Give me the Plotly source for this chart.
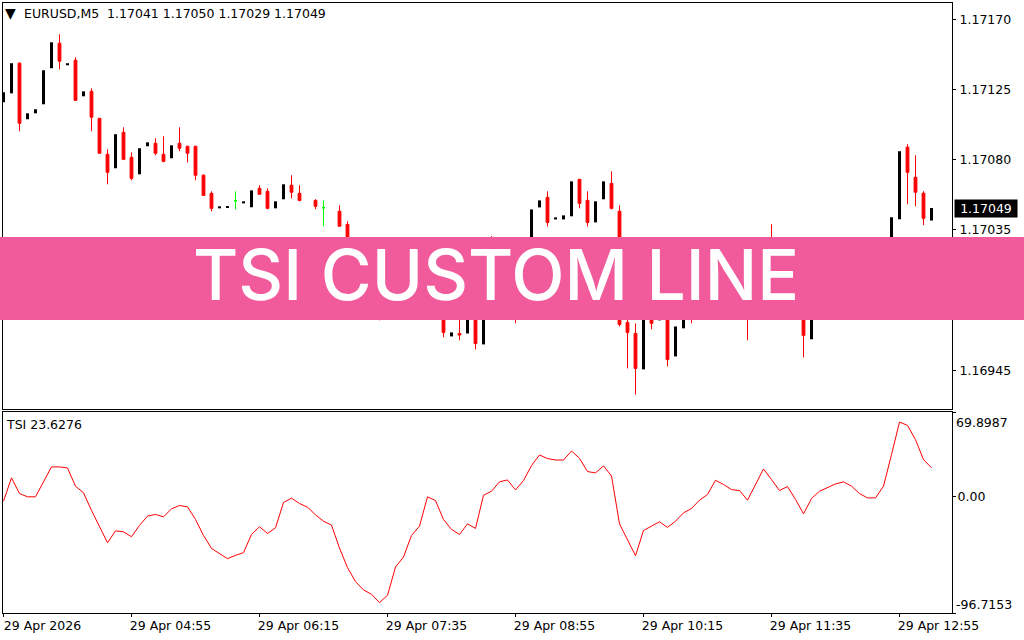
import plotly.graph_objects as go
from plotly.subplots import make_subplots

# price values in 1/100000 (bars behind the banner are rough)
bar_open = [117116.8, 117122.5, 117141.8, 117105.9, 117109.7, 117115.5, 117138.6, 117154.6, 117140.5, 117143.7,
            117120.6, 117123.8, 117106.5, 117083.4, 117074.5, 117097.5, 117081.5, 117070.6, 117088.6, 117090.5,
            117083.4, 117080.9, 117090.5, 117088.6, 117088.6, 117070.0, 117058.4, 117048.8, 117049.5, 117053.7,
            117052.0, 117049.5, 117061.6, 117059.7, 117048.8, 117054.6, 117063.6, 117058.4, None, 117053.9,
            117049.2, None, 117046.9, 117038.5, 117016, 117006, 116998, 116992, 116987, 116996,
            117004, 117008, 117016, 117014, 117020, 116990, 116966.7, 116968.6, 116968.6, 116982,
            116961.6, 117020, 117010, 117022, 117005, 116990, 117015, 117049.4, 117055.8, 117041.7,
            117041.7, 117043.7, 117067.4, 117053.9, 117039.8, 117054.6, 117064.8, 117046.9, 116975.7, 116968.6,
            116945.6, 116985, 116977.0, 116992, 116953.9, 116971.9, 116992, 116985, 116995, 116988,
            117000, 116992, 117000, 117008, 116990, 117003, 117018, 117005, 116995, 117005,
            116990, 116964.9, 116985, 116995, 117004, 116998, 117006, 117000, 116995, 116988,
            116996, 117012, 117041.8, 117088.0, 117068.7, 117058.5, 117041]
bar_close = [117123.2, 117141.8, 117103.3, 117109.7, 117112.3, 117137.3, 117155.2, 117143.1, 117141.8, 117118.0,
             117123.8, 117107.2, 117084.1, 117071.9, 117096.3, 117080.2, 117068.0, 117087.3, 117091.1, 117084.1,
             117078.9, 117089.2, 117087.3, 117084.1, 117070.0, 117057.1, 117048.8, 117050.1, 117050.1, 117053.7,
             117053.3, 117060.3, 117057.8, 117048.8, 117053.3, 117064.2, 117059.1, 117053.9, None, 117050.1,
             117049.2, None, 117037.3, 117015, 117006, 116998, 116992, 116987, 116998, 117006,
             117010, 117018, 117022, 117027, 117008, 116969.3, 116969.3, 116967.6, 116985, 116962.2,
             117005, 117010, 117022, 117008, 116990, 117012, 117048.1, 117053.9, 117039.8, 117043.0,
             117044.3, 117066.1, 117052.0, 117039.8, 117053.3, 117066.1, 117048.8, 116974.4, 116969.3, 116946.2,
             116985, 116975.1, 116982, 116952.0, 116973.1, 116990, 116985, 116995, 116988, 117000,
             116992, 117002, 117010, 116990, 117005, 117015, 117005, 116995, 117006, 116992,
             116967.4, 116985, 116995, 117004, 116998, 117006, 117000, 116995, 116988, 116996,
             117010, 117043.1, 117085.4, 117071.9, 117059.1, 117042.4, 117049]
# only the wicks that show; None means no wick on that side
bar_high = [None, None, 117142.4, None, None, None, None, 117160.4, None, 117145.6,
            None, 117125.7, None, 117086.6, None, 117100.7, 117084.7, None, None, 117093.7,
            117095.0, None, 117100.7, None, None, 117070.6, 117059.7, None, None, 117059.7,
            None, None, 117063.6, 117061.6, None, None, 117070.0, 117063.6, None, 117054.6,
            117053.9, None, 117050.7, 117040.5, 117018, 117008, 117002, 116996, None, None,
            None, None, None, None, 117024, 116992, None, 116977.6, None, 116985,
            None, 117031, None, 117026, 117012, None, None, None, 117059.7, None,
            None, None, None, 117059.7, None, None, 117072.5, 117050.7, 116980, 116975,
            None, 116988, None, 116998, None, None, 116996, None, 116998, None,
            117004, None, None, 117012, None, None, 117038.6, 117008, None, 117010,
            116992, None, None, None, 117007, None, 117010, 117003, 116998, None,
            None, None, None, 117089.9, 117082.8, 117059.8, None]
bar_low = [None, None, 117098.2, None, None, None, None, 117137.9, None, None,
           None, 117098.2, None, 117064.2, None, None, 117066.8, None, None, 117082.8,
           117078.3, None, 117085.4, 117078.3, 117066.8, None, 117046.9, None, None, 117048.2,
           None, None, None, 117048.2, None, None, 117055.2, 117053.3, None, 117048.2,
           117037.3, None, None, 117012, 117003, 116994, 116988, 116977.0, None, None,
           None, None, None, None, 117002, 116966.1, None, 116964.2, None, 116958.4,
           None, 117006, None, 117004, 116975.1, None, None, None, 117037.2, None,
           None, None, 117048.8, 117037.2, None, None, 117048.1, 116973.1, 116946.2, 116929.5,
           None, 116971.2, None, 116947.5, None, None, 116975.1, None, 116984, None,
           116988, None, None, 116964.2, None, None, 117000, 116990, None, 116985,
           116953.3, None, None, None, 116994, None, 116996, 116990, 116984, None,
           None, None, None, 117051.4, 117050.1, 117038.0, None]

tsi_values = [-4.0, 15.3, 2.3, -0.4, -0.4, 11.7, 24.4, 24.4, 23.5, 8.4,
              2.9, -11.7, -25.2, -38.5, -28.6, -29.4, -33.5, -24.1, -16.4, -15.0,
              -17.0, -10.4, -7.6, -8.7, -19.2, -32.4, -43.2, -47.8, -51.7, -48.9,
              -46.7, -31.6, -25.2, -30.8, -26.1, -5.1, -1.5, -6.0, -9.0, -15.3,
              -20.6, -23.9, -42.9, -59.1, -70.7, -77.6, -81.2, -88.1, -82.0, -58.6,
              -50.3, -32.4, -24.7, -0.4, -3.5, -19.2, -27.4, -31.6, -22.8, -26.6,
              0.9, 4.2, 12.0, 13.6, 5.3, 13.1, 25.5, 34.3, 31.3, 30.1,
              30.1, 37.6, 31.5, 20.5, 19.4, 25.2, 16.9, -22.8, -35.7, -49.2,
              -28.3, -25.0, -21.1, -25.8, -20.6, -13.7, -10.1, -3.2, 1.5, 13.3,
              9.8, 5.6, 4.8, -3.2, 9.8, 22.7, 13.9, 4.8, 8.1, -2.6,
              -14.5, -1.8, 4.2, 7.6, 10.3, 12.0, 8.4, 2.3, -1.3, -1.3,
              8.4, 34.6, 61.6, 58.8, 47.0, 30.4, 23.6276]

price_ticks = [1.17170, 1.17125, 1.17080, 1.17035, 1.16990, 1.16945]
price_labels = ['1.17170', '1.17125', '1.17080', '1.17035', '1.16990', '1.16945']
time_ticks = [0, 16, 32, 48, 64, 80, 96, 112]
time_labels = ['29 Apr 2026', '29 Apr 04:55', '29 Apr 06:15', '29 Apr 07:35',
               '29 Apr 08:55', '29 Apr 10:15', '29 Apr 11:35', '29 Apr 12:55']
tsi_ticks = [69.8987, 0, -96.7153]
last_price = 1.17049

FONT = 'DejaVu Sans'
LABEL_SIZE = 12.5


# page pixel -> paper fraction (plot area is x 3..952, y 3..613)
def paper_x(px):
    return (px - 3) / 949


def paper_y(py):
    return (613 - py) / 610


rows = range(len(bar_open))
red = [i for i in rows if bar_open[i] is not None and bar_close[i] < bar_open[i]]
black = [i for i in rows if bar_open[i] is not None and bar_close[i] > bar_open[i]]
doji = [i for i in rows if bar_open[i] is not None and bar_close[i] == bar_open[i]]


def candle(index, color):
    o = [bar_open[i] / 1e5 for i in index]
    c = [bar_close[i] / 1e5 for i in index]
    h = [(bar_high[i] if bar_high[i] is not None else max(bar_open[i], bar_close[i])) / 1e5 for i in index]
    l = [(bar_low[i] if bar_low[i] is not None else min(bar_open[i], bar_close[i])) / 1e5 for i in index]
    side = dict(line=dict(color=color, width=1), fillcolor=color)
    return go.Candlestick(x=index, open=o, high=h, low=l, close=c, increasing=side, decreasing=side,
                          whiskerwidth=0, showlegend=False, hoverinfo='skip')


fig = make_subplots(rows=2, cols=1, shared_xaxes=True)

fig.add_trace(go.Bar(x=black, y=[(bar_close[i] - bar_open[i]) / 1e5 for i in black],
                     base=[bar_open[i] / 1e5 for i in black], width=0.375,
                     marker=dict(color='#000000', line=dict(width=0)), showlegend=False), row=1, col=1)
fig.add_trace(candle(red, '#ff0000'), row=1, col=1)
fig.add_trace(candle(doji, '#00ff00'), row=1, col=1)
fig.add_trace(go.Scatter(x=list(rows), y=tsi_values, mode='lines', line=dict(color='#ff0000', width=1),
                         showlegend=False), row=2, col=1)

axis_style = dict(showgrid=False, zeroline=False, showline=True, linecolor='#000000', linewidth=1, mirror=True)
label_font = dict(family=FONT, size=LABEL_SIZE, color='#000000')

fig.update_xaxes(range=[-0.0625, 118.5625], **axis_style)
fig.update_xaxes(showticklabels=False, ticks='', row=1, col=1)
fig.update_xaxes(tickmode='array', tickvals=time_ticks, ticktext=time_labels, ticks='outside', ticklen=3,
                 tickcolor='#000000', tickfont=label_font, ticklabelshift=39, ticklabelstandoff=-2,
                 ticklabeloverflow='allow', row=2, col=1)

fig.update_yaxes(side='right', range=[1.169202, 1.171804], tickmode='array', tickvals=price_ticks,
                 ticktext=price_labels, ticks='outside', ticklen=3, tickcolor='#000000', tickfont=label_font,
                 ticklabelstandoff=1, domain=[204 / 610, 1], row=1, col=1, **axis_style)
fig.update_yaxes(side='right', range=[-96.7153, 69.8987], tickmode='array', tickvals=tsi_ticks,
                 ticktext=['', '0.00', ''], ticks='outside', ticklen=3, tickcolor='#000000', tickfont=label_font,
                 ticklabelstandoff=-1, domain=[0, 201 / 610], row=2, col=1, **axis_style)

fig.add_shape(type='rect', xref='paper', yref='paper', x0=paper_x(0), x1=paper_x(1024),
              y0=paper_y(320), y1=paper_y(237), fillcolor='#f15b9b', line_width=0, layer='above')

texts = [
    ('▼', 4, 13, 14, '#000000'),
    ('EURUSD,M5  1.17041 1.17050 1.17029 1.17049', 23, 14, LABEL_SIZE, '#000000'),
    ('TSI 23.6276', 5, 424, LABEL_SIZE, '#000000'),
    ('69.8987', 955, 422, LABEL_SIZE, '#000000'),
    ('-96.7153', 955, 604, LABEL_SIZE, '#000000'),
]
for text, px, py, size, color in texts:
    fig.add_annotation(text=text, xref='paper', yref='paper', x=paper_x(px), y=paper_y(py), xanchor='left',
                       yanchor='middle', showarrow=False, borderpad=0,
                       font=dict(family=FONT, size=size, color=color))

fig.add_annotation(text=f'{last_price:.5f}', xref='paper', yref='y', x=paper_x(954), y=last_price,
                   xanchor='left', yanchor='middle', showarrow=False, width=62, height=17, borderpad=0,
                   bgcolor='#000000', font=dict(family=FONT, size=LABEL_SIZE, color='#ffffff'))

fig.add_annotation(text='TSI CUSTOM LINE', xref='paper', yref='paper', x=paper_x(496), y=paper_y(275),
                   xanchor='center', yanchor='middle', showarrow=False,
                   font=dict(family='Inter', size=69.5, color='#ffffff', weight=500))

fig.update_layout(width=1024, height=640, margin=dict(l=3, r=72, t=3, b=27), autosize=False,
                  paper_bgcolor='#ffffff', plot_bgcolor='#ffffff', boxmode='overlay', boxgap=0.5,
                  barmode='overlay', hovermode=False, showlegend=False,
                  xaxis_rangeslider_visible=False, xaxis2_rangeslider_visible=False)

# the page's default body margin would push the 1024 wide chart off the window
fig.write_html('out.html', config={'displayModeBar': False},
               post_script="document.body.style.margin='0';document.body.style.overflow='hidden';")
